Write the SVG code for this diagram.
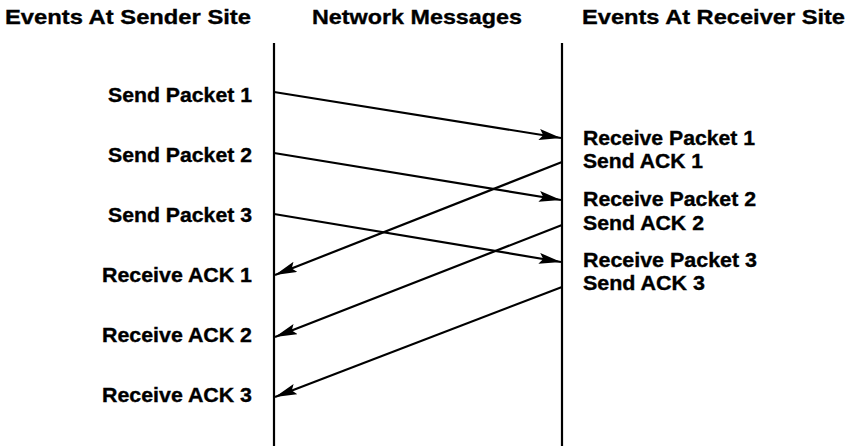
<svg xmlns="http://www.w3.org/2000/svg" width="859" height="447" viewBox="0 0 859 447">
  <style>
    text { font-family: "Liberation Sans", Arial, Helvetica, sans-serif; font-weight: bold; fill: #000; stroke: #000; stroke-width: 0.35; }
    .title { font-size: 21px; }
    .lbl { font-size: 20px; }
    .axis { stroke: #000; stroke-width: 2.2; fill: none; }
    .msg { stroke: #000; stroke-width: 2.2; fill: none; marker-end: url(#ah); }
  </style>
  <defs>
    <marker id="ah" markerUnits="userSpaceOnUse" markerWidth="24" markerHeight="12" refX="22" refY="5.5" orient="auto">
      <path d="M0,0 L22,5.5 L0,11 L4,5.5 z" fill="#000"/>
    </marker>
  </defs>
  <rect width="859" height="447" fill="#fff"/>

  <g id="headers">
    <text class="title" x="5" y="24" textLength="246" lengthAdjust="spacingAndGlyphs">Events At Sender Site</text>
    <text class="title" x="312" y="24" textLength="210" lengthAdjust="spacingAndGlyphs">Network Messages</text>
    <text class="title" x="582" y="24" textLength="263" lengthAdjust="spacingAndGlyphs">Events At Receiver Site</text>
  </g>

  <g id="timelines">
    <line id="sender-line" class="axis" x1="274" y1="43" x2="274" y2="446"/>
    <line id="receiver-line" class="axis" x1="562" y1="43" x2="562" y2="446"/>
  </g>

  <g id="send-packet-1"><text class="lbl" x="108" y="102" textLength="144" lengthAdjust="spacingAndGlyphs">Send Packet 1</text></g>
  <g id="send-packet-2"><text class="lbl" x="108" y="162" textLength="144" lengthAdjust="spacingAndGlyphs">Send Packet 2</text></g>
  <g id="send-packet-3"><text class="lbl" x="108" y="222" textLength="144" lengthAdjust="spacingAndGlyphs">Send Packet 3</text></g>
  <g id="receive-ack-1"><text class="lbl" x="102" y="282" textLength="150" lengthAdjust="spacingAndGlyphs">Receive ACK 1</text></g>
  <g id="receive-ack-2"><text class="lbl" x="102" y="342" textLength="150" lengthAdjust="spacingAndGlyphs">Receive ACK 2</text></g>
  <g id="receive-ack-3"><text class="lbl" x="102" y="402" textLength="150" lengthAdjust="spacingAndGlyphs">Receive ACK 3</text></g>

  <g id="receiver-1">
    <text class="lbl" x="583" y="145" textLength="172" lengthAdjust="spacingAndGlyphs">Receive Packet 1</text>
    <text class="lbl" x="583" y="168" textLength="120" lengthAdjust="spacingAndGlyphs">Send ACK 1</text>
  </g>
  <g id="receiver-2">
    <text class="lbl" x="583" y="206" textLength="173" lengthAdjust="spacingAndGlyphs">Receive Packet 2</text>
    <text class="lbl" x="583" y="230" textLength="121" lengthAdjust="spacingAndGlyphs">Send ACK 2</text>
  </g>
  <g id="receiver-3">
    <text class="lbl" x="583" y="267" textLength="174" lengthAdjust="spacingAndGlyphs">Receive Packet 3</text>
    <text class="lbl" x="583" y="290" textLength="122" lengthAdjust="spacingAndGlyphs">Send ACK 3</text>
  </g>

  <g id="connectors">
    <line class="msg" x1="274" y1="92" x2="561" y2="138"/>
    <line class="msg" x1="274" y1="153" x2="561" y2="200"/>
    <line class="msg" x1="274" y1="214" x2="561" y2="262"/>
    <line class="msg" x1="562" y1="162" x2="275" y2="275"/>
    <line class="msg" x1="562" y1="225" x2="275" y2="337"/>
    <line class="msg" x1="562" y1="287" x2="275" y2="397"/>
  </g>
</svg>
